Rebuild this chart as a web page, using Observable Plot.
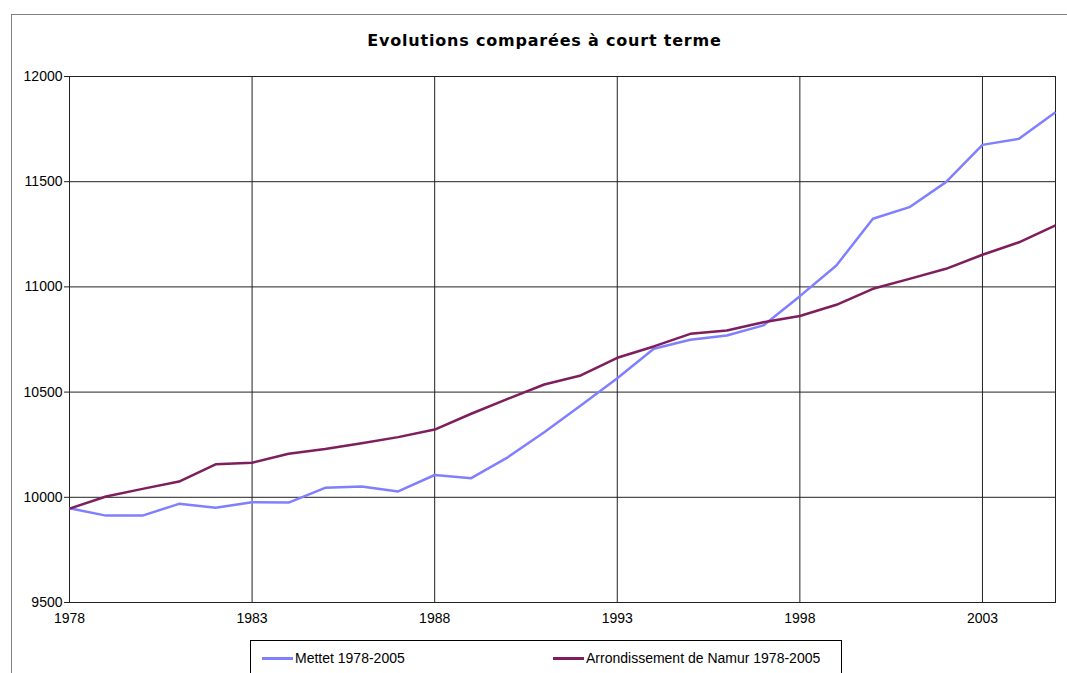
<!DOCTYPE html>
<html>
<head>
<meta charset="utf-8">
<script src="https://cdn.jsdelivr.net/npm/d3@7"></script>
<script src="https://cdn.jsdelivr.net/npm/@observablehq/plot@0.6"></script>
<style>
  html, body { margin: 0; padding: 0; background: #fff; overflow: hidden; }
  #wrap { position: relative; width: 1067px; height: 673px; overflow: hidden; }
  #outer { position: absolute; left: 11px; top: 14px; width: 1100px; height: 700px; border: 1px solid #808080; box-sizing: border-box; }
  #chart { position: absolute; left: 0; top: 0; }
  #title { position: absolute; left: 0; top: 31px; width: 1089px; text-align: center;
           font-family: "DejaVu Sans", sans-serif; font-weight: bold; font-size: 16px; letter-spacing: 0.8px; line-height: 20px; color: #000; }
  #legend { position: absolute; left: 250px; top: 640px; width: 592px; height: 36px; border: 1px solid #000;
            box-sizing: border-box; background: #fff; font-family: "Liberation Sans", Arial, sans-serif; font-size: 14px; color: #000; }
  .item { position: absolute; top: 8px; height: 18px; line-height: 18px; white-space: nowrap; }
  .swatch { display: inline-block; width: 31px; height: 3px; vertical-align: middle; margin-right: 2px; position: relative; top: -1px; }
</style>
</head>
<body>
<div id="wrap">
  <div id="outer"></div>
  <div id="chart"></div>
  <div id="title"></div>
  <div id="legend"></div>
</div>
<script>
const titleText = "Evolutions comparées à court terme";
const years = [1978, 1979, 1980, 1981, 1982, 1983, 1984, 1985, 1986, 1987, 1988, 1989, 1990, 1991,
               1992, 1993, 1994, 1995, 1996, 1997, 1998, 1999, 2000, 2001, 2002, 2003, 2004, 2005];
const mettet = [9948, 9913, 9913, 9969, 9950, 9976, 9975, 10045, 10051, 10028, 10106, 10091, 10190, 10309,
                10436, 10566, 10706, 10749, 10769, 10817, 10956, 11102, 11324, 11379, 11498, 11675, 11704, 11830];
const namur = [9946, 10004, 10040, 10075, 10157, 10164, 10207, 10230, 10257, 10286, 10322, 10397, 10468, 10536,
               10579, 10663, 10717, 10777, 10793, 10832, 10862, 10915, 10991, 11038, 11086, 11153, 11212, 11292];
const seriesNames = ["Mettet 1978-2005", "Arrondissement de Namur 1978-2005"];
const seriesColors = ["#8080ff", "#7e1e5c"];
const xTicks = [1978, 1983, 1988, 1993, 1998, 2003];
const yTicks = [9500, 10000, 10500, 11000, 11500, 12000];

const rows = [];
years.forEach((yr, i) => {
  rows.push({year: yr, value: mettet[i], series: seriesNames[0]});
  rows.push({year: yr, value: namur[i], series: seriesNames[1]});
});

const chart = Plot.plot({
  width: 1067,
  height: 673,
  marginTop: 76,
  marginLeft: 69,
  marginRight: 12,
  marginBottom: 71,
  style: {fontFamily: "'Liberation Sans', Arial, sans-serif", fontSize: "14px", color: "#000", background: "transparent"},
  x: {domain: [1978, 2005]},
  y: {domain: [9500, 12000]},
  color: {domain: seriesNames, range: seriesColors},
  marks: [
    Plot.ruleX(xTicks, {stroke: "#222", strokeWidth: 1}),
    Plot.ruleY(yTicks, {stroke: "#222", strokeWidth: 1}),
    Plot.frame({stroke: "#222", strokeWidth: 1}),
    Plot.axisY({ticks: yTicks, tickSize: 5, tickPadding: 2, tickFormat: d => String(d), label: null, stroke: "#222", fontSize: 14}),
    Plot.axisX({ticks: xTicks, tickSize: 0, tickPadding: 11, tickFormat: d => String(d), label: null, fontSize: 14}),
    Plot.line(rows, {x: "year", y: "value", z: "series", stroke: "series", strokeWidth: 2.5,
                     strokeLinejoin: "round", strokeLinecap: "butt", curve: "linear"})
  ]
});
document.getElementById("chart").appendChild(chart);
document.getElementById("title").textContent = titleText;

const legend = document.getElementById("legend");
const itemLefts = [11, 302];
seriesNames.forEach((name, i) => {
  const item = document.createElement("div");
  item.className = "item";
  item.style.left = itemLefts[i] + "px";
  const sw = document.createElement("span");
  sw.className = "swatch";
  sw.style.background = seriesColors[i];
  item.appendChild(sw);
  item.appendChild(document.createTextNode(name));
  legend.appendChild(item);
});
</script>
</body>
</html>
